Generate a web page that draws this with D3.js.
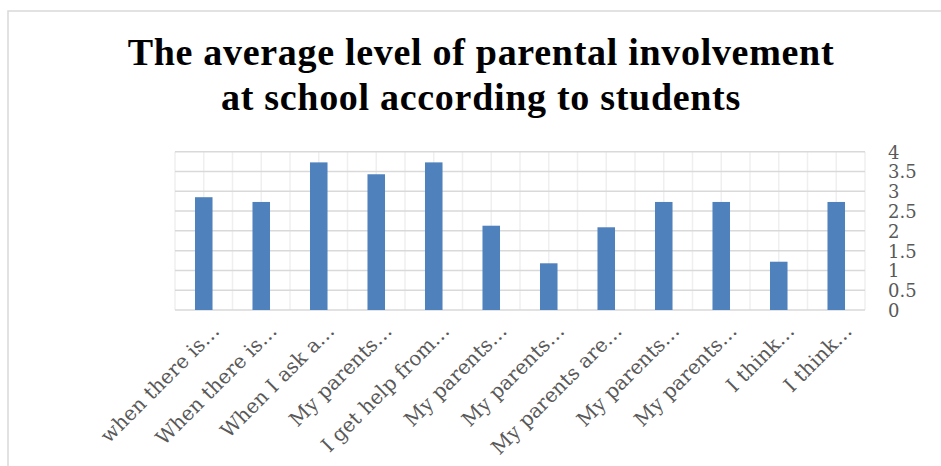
<!DOCTYPE html>
<html>
<head>
<meta charset="utf-8">
<script src="https://cdn.jsdelivr.net/npm/d3@7"></script>
<style>
  html, body { margin: 0; padding: 0; background: #fff; }
  svg { display: block; }
</style>
</head>
<body>
<svg id="chart" width="941" height="466"></svg>
<script>
const titleLines = ["The average level of parental involvement", "at school according to students"];
const categories = [
  "when there is\u2026", "When there is\u2026", "When I ask  a\u2026", "My parents\u2026",
  "I get help from\u2026", "My parents\u2026", "My parents\u2026", "My parents are\u2026",
  "My parents\u2026", "My parents\u2026", "I think\u2026", "I think\u2026"
];
const values = [2.85, 2.73, 3.73, 3.43, 3.73, 2.13, 1.18, 2.09, 2.73, 2.73, 1.22, 2.73];
const yTicks = [0, 0.5, 1, 1.5, 2, 2.5, 3, 3.5, 4];
const yTickLabels = ["0", "0.5", "1", "1.5", "2", "2.5", "3", "3.5", "4"];

const svg = d3.select("#chart");
const plot = { left: 175, right: 865, top: 151.7, bottom: 310 };

// chart border
svg.append("rect")
  .attr("x", 8).attr("y", 11).attr("width", 960).attr("height", 480)
  .attr("fill", "#fff").attr("stroke", "#d9d9d9").attr("stroke-width", 1.5);

// title
svg.append("text")
  .attr("x", 481).attr("text-anchor", "middle")
  .attr("font-family", "'Liberation Serif', serif")
  .attr("font-weight", "bold").attr("font-size", 38)
  .attr("letter-spacing", 0.7)
  .attr("fill", "#000")
  .selectAll("tspan").data(titleLines).join("tspan")
  .attr("x", 481).attr("y", (d, i) => 65 + i * 45)
  .text(d => d);

const x = d3.scaleBand().domain(d3.range(categories.length)).range([plot.left, plot.right]).padding(0);
const y = d3.scaleLinear().domain([0, 4]).range([plot.bottom, plot.top]);

// vertical gridlines (major at boundaries, minor at midpoints)
const vLines = [];
for (let i = 0; i <= categories.length; i++) {
  vLines.push(x.step() * i + plot.left);
  if (i < categories.length) vLines.push(x.step() * (i + 0.5) + plot.left);
}
svg.append("g").selectAll("line").data(vLines).join("line")
  .attr("x1", d => d).attr("x2", d => d)
  .attr("y1", plot.top).attr("y2", plot.bottom)
  .attr("stroke", "#efefef").attr("stroke-width", 1.5);

// horizontal gridlines
svg.append("g").selectAll("line").data(yTicks).join("line")
  .attr("x1", plot.left).attr("x2", plot.right)
  .attr("y1", d => y(d)).attr("y2", d => y(d))
  .attr("stroke", "#d9d9d9").attr("stroke-width", 1.5);

// bars
const barW = x.step() * 0.305;
svg.append("g").selectAll("rect").data(values).join("rect")
  .attr("x", (d, i) => x(i) + x.bandwidth() / 2 - barW / 2)
  .attr("y", d => y(d))
  .attr("width", barW)
  .attr("height", d => plot.bottom - y(d))
  .attr("fill", "#4f81bd");

// right y-axis labels
const yAxis = d3.axisRight(y).tickValues(yTicks).tickFormat((d, i) => yTickLabels[i]).tickSize(0).tickPadding(0);
const ya = svg.append("g").attr("transform", `translate(888,0)`).call(yAxis);
ya.select(".domain").remove();
ya.selectAll("text")
  .attr("font-family", "'DejaVu Serif', serif").attr("font-size", 18)
  .attr("fill", "#595959").attr("x", 0).attr("dy", "0.36em");

// x-axis labels
const xAxis = d3.axisBottom(x).tickFormat(i => categories[i]).tickSize(0);
const xa = svg.append("g").attr("transform", `translate(0,${plot.bottom})`).call(xAxis);
xa.select(".domain").remove();
xa.selectAll("text")
  .attr("font-family", "'DejaVu Serif', serif").attr("font-size", 20)
  .attr("fill", "#595959")
  .attr("text-anchor", "end")
  .attr("x", 0).attr("y", 0).attr("dy", 0)
  .attr("transform", "translate(17,22) rotate(-45)");
</script>
</body>
</html>
